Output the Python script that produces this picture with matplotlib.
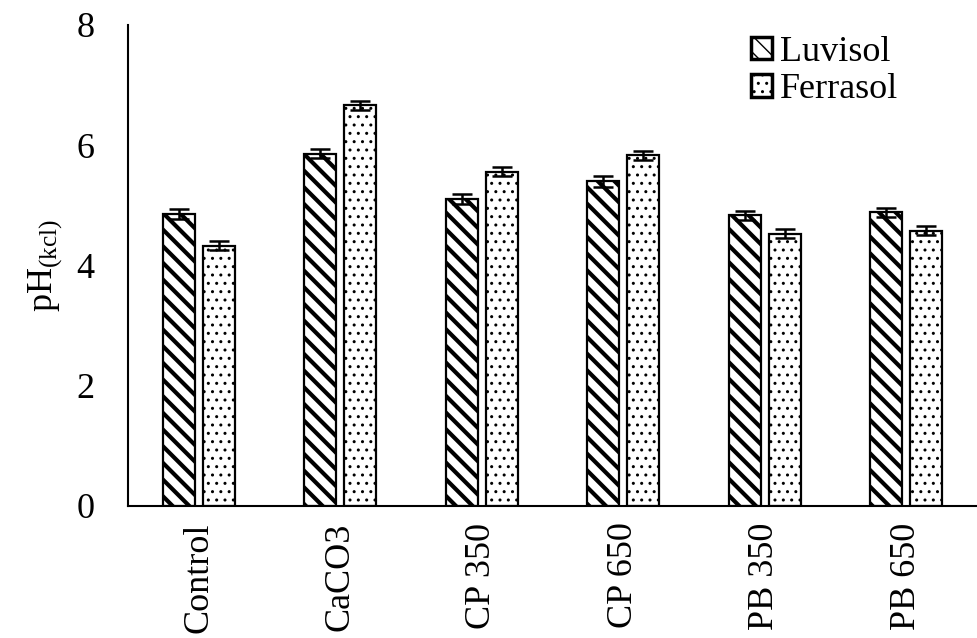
import numpy as np
import matplotlib
matplotlib.use('Agg')
from matplotlib import pyplot as plt

# datos
tratamientos = ['Control', 'CaCO3', 'CP 350', 'CP 650', 'PB 350', 'PB 650']
luvisol = [4.85, 5.86, 5.10, 5.40, 4.83, 4.88]
ferrasol = [4.33, 6.66, 5.56, 5.83, 4.53, 4.58]
err_luvisol = [0.08, 0.08, 0.08, 0.09, 0.08, 0.08]
err_ferrasol = [0.08, 0.08, 0.08, 0.08, 0.08, 0.08]

plt.rcParams['font.family'] = ['Liberation Serif', 'DejaVu Serif']
plt.rcParams['mathtext.fontset'] = 'custom'
plt.rcParams['mathtext.rm'] = 'Liberation Serif'
plt.rcParams['mathtext.it'] = 'Liberation Serif'

fig = plt.figure(figsize=(9.77, 6.38), dpi=100)
ax = fig.add_axes([0.131, 0.207, 0.869, 0.754])

x = np.arange(len(tratamientos))
w = 0.226
d = 0.141
ekw = dict(ecolor='black', elinewidth=1.8, capsize=7, capthick=1.8)

plt.rcParams['hatch.linewidth'] = 3.0
b1 = ax.bar(x - d, luvisol, w, color='white', edgecolor='black', linewidth=1.6,
            hatch='\\\\', label='Luvisol', yerr=err_luvisol, error_kw=ekw)
plt.rcParams['hatch.linewidth'] = 1.0
b2 = ax.bar(x + d, ferrasol, w, color='white', edgecolor='black', linewidth=1.6,
            hatch='..', label='Ferrasol', yerr=err_ferrasol, error_kw=ekw)
for p in b1:
    if hasattr(p, 'set_hatch_linewidth'):
        p.set_hatch_linewidth(3.0)
for p in b2:
    if hasattr(p, 'set_hatch_linewidth'):
        p.set_hatch_linewidth(1.0)

ax.set_xlim(-0.5, len(tratamientos) - 0.5)
ax.set_ylim(0, 8)
ax.set_yticks([0, 2, 4, 6, 8])
ax.set_xticks(x)
ax.set_xticklabels(tratamientos, rotation=90, fontsize=26)
ax.tick_params(axis='y', labelsize=26, length=0, pad=24)
ax.tick_params(axis='x', length=0, pad=12)

ax.spines['top'].set_visible(False)
ax.spines['right'].set_visible(False)
ax.spines['left'].set_linewidth(1.5)
ax.spines['bottom'].set_linewidth(1.5)

ax.set_ylabel('pH$_{\\mathrm{(kcl)}}$', fontsize=26, labelpad=8)

leg = ax.legend(loc='upper right', bbox_to_anchor=(0.945, 1.045), frameon=False,
                fontsize=26, handlelength=0.6, handleheight=0.6, handletextpad=0.2,
                labelspacing=0.12)
for h in leg.legend_handles:
    h.set_linewidth(2.5)

fig.savefig('out.png', dpi=100)
